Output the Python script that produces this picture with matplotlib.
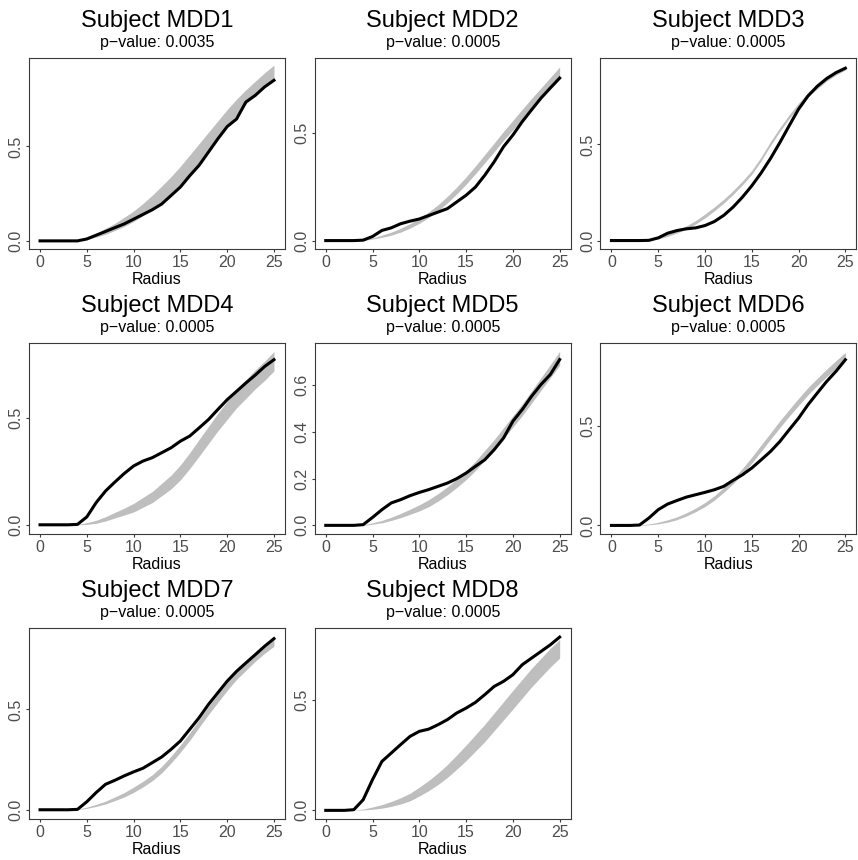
import matplotlib
matplotlib.use("Agg")
import matplotlib.pyplot as plt

plt.rcParams['font.family'] = ['Liberation Sans', 'DejaVu Sans']

# ---------------- data ----------------
radius = [0, 1, 2, 3, 4, 5, 6, 7, 8, 9, 10, 11, 12, 13, 14, 15, 16, 17, 18, 19, 20, 21, 22, 23, 24, 25]

subjects = ["MDD1", "MDD2", "MDD3", "MDD4", "MDD5", "MDD6", "MDD7", "MDD8"]
p_values = ["0.0035", "0.0005", "0.0005", "0.0005", "0.0005", "0.0005", "0.0005", "0.0005"]

mdd1_obs = [0, 0, 0, 0, 0, 0.010, 0.030, 0.050, 0.070, 0.090, 0.115, 0.140, 0.165, 0.195, 0.240, 0.285, 0.345, 0.400, 0.470, 0.540, 0.605, 0.645, 0.735, 0.770, 0.815, 0.850]
mdd1_lo = [0, 0, 0, 0, 0.001, 0.008, 0.020, 0.035, 0.055, 0.077, 0.103, 0.133, 0.168, 0.205, 0.250, 0.298, 0.350, 0.410, 0.475, 0.540, 0.605, 0.665, 0.725, 0.775, 0.815, 0.850]
mdd1_hi = [0, 0, 0, 0, 0.005, 0.020, 0.040, 0.066, 0.093, 0.125, 0.158, 0.198, 0.242, 0.290, 0.340, 0.395, 0.455, 0.515, 0.575, 0.635, 0.695, 0.750, 0.800, 0.845, 0.890, 0.930]

mdd2_obs = [0, 0, 0, 0, 0.002, 0.019, 0.047, 0.059, 0.078, 0.090, 0.100, 0.116, 0.132, 0.148, 0.179, 0.210, 0.248, 0.303, 0.365, 0.435, 0.489, 0.551, 0.606, 0.660, 0.707, 0.753]
mdd2_lo = [0, 0, 0, 0, 0.001, 0.007, 0.015, 0.025, 0.039, 0.058, 0.080, 0.107, 0.138, 0.175, 0.216, 0.261, 0.310, 0.361, 0.412, 0.464, 0.513, 0.562, 0.611, 0.657, 0.704, 0.751]
mdd2_hi = [0, 0, 0, 0, 0.003, 0.013, 0.025, 0.039, 0.057, 0.078, 0.104, 0.133, 0.166, 0.205, 0.248, 0.295, 0.346, 0.399, 0.452, 0.506, 0.557, 0.608, 0.659, 0.707, 0.756, 0.805]

mdd3_obs = [0, 0, 0, 0, 0.001, 0.014, 0.038, 0.052, 0.061, 0.066, 0.078, 0.099, 0.131, 0.174, 0.226, 0.285, 0.352, 0.427, 0.510, 0.598, 0.684, 0.752, 0.803, 0.843, 0.874, 0.897]
mdd3_lo = [0, 0, 0, 0, 0.001, 0.008, 0.022, 0.039, 0.060, 0.086, 0.118, 0.155, 0.195, 0.240, 0.290, 0.345, 0.415, 0.495, 0.568, 0.635, 0.695, 0.750, 0.790, 0.830, 0.862, 0.888]
mdd3_hi = [0, 0, 0, 0, 0.003, 0.016, 0.034, 0.053, 0.076, 0.104, 0.138, 0.175, 0.215, 0.260, 0.310, 0.365, 0.435, 0.515, 0.588, 0.655, 0.715, 0.770, 0.810, 0.850, 0.882, 0.908]

mdd4_obs = [0, 0, 0, 0, 0.002, 0.037, 0.104, 0.158, 0.200, 0.240, 0.275, 0.298, 0.314, 0.337, 0.360, 0.391, 0.415, 0.453, 0.492, 0.539, 0.585, 0.624, 0.663, 0.700, 0.740, 0.772]
mdd4_lo = [0, 0, 0, 0, 0, 0.002, 0.007, 0.018, 0.032, 0.046, 0.060, 0.082, 0.104, 0.136, 0.168, 0.210, 0.263, 0.321, 0.380, 0.439, 0.493, 0.547, 0.591, 0.636, 0.675, 0.720]
mdd4_hi = [0, 0, 0, 0, 0.002, 0.010, 0.021, 0.038, 0.058, 0.078, 0.100, 0.128, 0.156, 0.194, 0.232, 0.280, 0.337, 0.399, 0.460, 0.521, 0.577, 0.633, 0.679, 0.724, 0.765, 0.810]

mdd5_obs = [0, 0, 0, 0, 0.003, 0.034, 0.067, 0.096, 0.110, 0.127, 0.141, 0.153, 0.167, 0.181, 0.200, 0.224, 0.253, 0.281, 0.324, 0.374, 0.446, 0.496, 0.553, 0.603, 0.646, 0.710]
mdd5_lo = [0, 0, 0, 0, 0, 0.005, 0.011, 0.021, 0.033, 0.047, 0.062, 0.080, 0.104, 0.131, 0.162, 0.196, 0.235, 0.279, 0.323, 0.372, 0.421, 0.470, 0.524, 0.578, 0.632, 0.685]
mdd5_hi = [0, 0, 0, 0, 0.002, 0.011, 0.021, 0.035, 0.051, 0.069, 0.088, 0.110, 0.136, 0.165, 0.198, 0.234, 0.275, 0.321, 0.367, 0.418, 0.469, 0.520, 0.576, 0.632, 0.688, 0.745]

mdd6_obs = [0, 0, 0, 0.002, 0.037, 0.079, 0.107, 0.125, 0.142, 0.154, 0.166, 0.179, 0.196, 0.226, 0.254, 0.288, 0.329, 0.371, 0.421, 0.480, 0.538, 0.605, 0.664, 0.722, 0.773, 0.831]
mdd6_lo = [0, 0, 0, 0, 0.003, 0.008, 0.016, 0.029, 0.047, 0.069, 0.095, 0.127, 0.166, 0.209, 0.258, 0.313, 0.372, 0.432, 0.491, 0.548, 0.602, 0.655, 0.702, 0.746, 0.789, 0.828]
mdd6_hi = [0, 0, 0, 0.002, 0.007, 0.016, 0.028, 0.043, 0.063, 0.087, 0.115, 0.149, 0.190, 0.235, 0.286, 0.343, 0.404, 0.464, 0.525, 0.582, 0.638, 0.691, 0.738, 0.784, 0.827, 0.868]

mdd7_obs = [0, 0, 0, 0, 0.002, 0.040, 0.086, 0.127, 0.147, 0.169, 0.189, 0.207, 0.235, 0.263, 0.301, 0.343, 0.401, 0.459, 0.525, 0.583, 0.641, 0.690, 0.732, 0.773, 0.815, 0.853]
mdd7_lo = [0, 0, 0, 0, 0.001, 0.007, 0.017, 0.029, 0.046, 0.064, 0.087, 0.114, 0.145, 0.184, 0.233, 0.287, 0.346, 0.411, 0.475, 0.535, 0.595, 0.650, 0.695, 0.740, 0.780, 0.815]
mdd7_hi = [0, 0, 0, 0, 0.003, 0.013, 0.027, 0.043, 0.064, 0.086, 0.113, 0.142, 0.175, 0.216, 0.267, 0.323, 0.384, 0.449, 0.515, 0.575, 0.635, 0.690, 0.735, 0.780, 0.820, 0.855]

mdd8_obs = [0, 0, 0, 0.003, 0.048, 0.139, 0.221, 0.259, 0.297, 0.334, 0.357, 0.367, 0.387, 0.410, 0.440, 0.462, 0.488, 0.523, 0.560, 0.583, 0.613, 0.658, 0.688, 0.718, 0.748, 0.783]
mdd8_lo = [0, 0, 0, 0.001, 0.002, 0.005, 0.010, 0.018, 0.029, 0.043, 0.065, 0.089, 0.117, 0.149, 0.186, 0.225, 0.268, 0.311, 0.360, 0.409, 0.458, 0.508, 0.558, 0.603, 0.648, 0.688]
mdd8_hi = [0, 0, 0, 0.001, 0.006, 0.015, 0.026, 0.040, 0.057, 0.077, 0.105, 0.135, 0.169, 0.207, 0.250, 0.295, 0.342, 0.389, 0.440, 0.491, 0.542, 0.592, 0.642, 0.687, 0.732, 0.772]

observed = [mdd1_obs, mdd2_obs, mdd3_obs, mdd4_obs, mdd5_obs, mdd6_obs, mdd7_obs, mdd8_obs]
env_lo = [mdd1_lo, mdd2_lo, mdd3_lo, mdd4_lo, mdd5_lo, mdd6_lo, mdd7_lo, mdd8_lo]
env_hi = [mdd1_hi, mdd2_hi, mdd3_hi, mdd4_hi, mdd5_hi, mdd6_hi, mdd7_hi, mdd8_hi]

x_ticks = [0, 5, 10, 15, 20, 25]
x_ticklabels = ["0", "5", "10", "15", "20", "25"]
y_ticks_default = [0.0, 0.5]
y_ticklabels_default = ["0.0", "0.5"]
y_ticks_mdd5 = [0.0, 0.2, 0.4, 0.6]
y_ticklabels_mdd5 = ["0.0", "0.2", "0.4", "0.6"]

# axis ranges (layout)
ylims = [(-0.043, 0.968), (-0.039, 0.846), (-0.044, 0.950), (-0.043, 0.850),
         (-0.037, 0.781), (-0.043, 0.915), (-0.046, 0.906), (-0.039, 0.824)]
xlim = (-1.18, 26.18)

# ---------------- figure ----------------
W, H = 858, 860
fig = plt.figure(figsize=(W / 100, H / 100), dpi=100)
fig.patch.set_facecolor("white")

band_color = "#BEBEBE"
spine_color = "#3a3a3a"
tick_color = "#4D4D4D"

for i, name in enumerate(subjects):
    r, c = divmod(i, 3)
    left_px = 29 + 285.7 * c
    top_px = 58 + 285 * r
    w_px, h_px = 256, 191
    ax = fig.add_axes([left_px / W, 1 - (top_px + h_px) / H, w_px / W, h_px / H])

    ax.fill_between(radius, env_lo[i], env_hi[i], color=band_color, linewidth=0, zorder=1)
    ax.plot(radius, observed[i], color="black", lw=2.2, solid_joinstyle="round", zorder=2)

    ax.set_xlim(*xlim)
    ax.set_ylim(*ylims[i])
    ax.set_xticks(x_ticks)
    ax.set_xticklabels(x_ticklabels)
    if name == "MDD5":
        ax.set_yticks(y_ticks_mdd5)
        ax.set_yticklabels(y_ticklabels_mdd5)
    else:
        ax.set_yticks(y_ticks_default)
        ax.set_yticklabels(y_ticklabels_default)

    for s in ax.spines.values():
        s.set_color(spine_color)
        s.set_linewidth(0.8)
    ax.tick_params(axis="both", direction="out", length=2.2, width=0.8,
                   color=spine_color, labelcolor=tick_color, labelsize=11.5)
    ax.tick_params(axis="x", pad=2.0)
    ax.tick_params(axis="y", pad=1.5)
    for lab in ax.get_yticklabels():
        lab.set_rotation(90)
        lab.set_va("center")
        lab.set_ha("right")

    cx = (left_px + w_px / 2) / W
    fig.text(cx, 1 - (top_px - 30.7) / H, "Subject " + name, ha="center", va="baseline",
             fontsize=17, color="black")
    fig.text(cx, 1 - (top_px - 11.3) / H, "p\u2212value: " + p_values[i], ha="center",
             va="baseline", fontsize=11.5, color="black")
    fig.text(cx, 1 - (top_px + h_px + 35) / H, "Radius", ha="center", va="baseline",
             fontsize=11.5, color="black")

fig.savefig("out.png", dpi=100, facecolor="white")
